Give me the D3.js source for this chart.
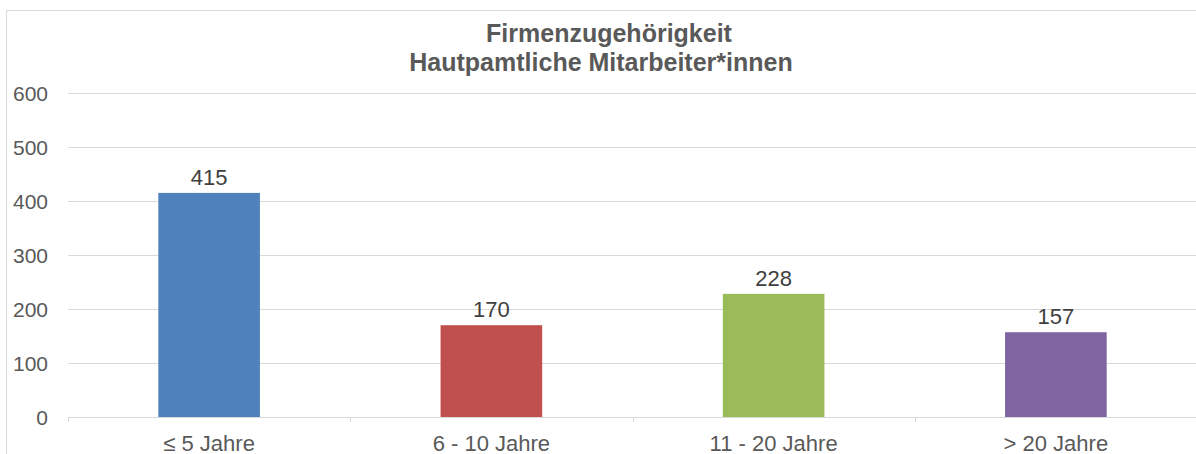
<!DOCTYPE html>
<html>
<head>
<meta charset="utf-8">
<script src="https://cdn.jsdelivr.net/npm/d3@7"></script>
<style>
  body { margin: 0; background: #fff; }
  svg { display: block; font-family: "Liberation Sans", Arial, sans-serif; }
</style>
</head>
<body>
<div id="chart"></div>
<script>
const WIDTH = 1196;
const HEIGHT = 454;

const categories = ["≤ 5 Jahre", "6 - 10 Jahre", "11 - 20 Jahre", "> 20 Jahre"];
const values = [415, 170, 228, 157];
const colors = ["#4F81BD", "#C0504D", "#9BBB59", "#8064A2"];
const yTicks = [0, 100, 200, 300, 400, 500, 600];
const titleLines = ["Firmenzugehörigkeit", "Hautpamtliche Mitarbeiter*innen"];

const margin = { left: 68, right: -1, top: 93, bottom: 37 };

const svg = d3.select("#chart").append("svg")
  .attr("width", WIDTH)
  .attr("height", HEIGHT);

// rahmen des diagrammbereichs (rechts und unten abgeschnitten)
svg.append("rect")
  .attr("x", 6.5).attr("y", 10.5)
  .attr("width", 1200).attr("height", 500)
  .attr("fill", "#fff")
  .attr("stroke", "#d9d9d9");

const x = d3.scaleBand()
  .domain(categories)
  .range([margin.left, WIDTH - margin.right])
  .paddingInner(0.64)
  .paddingOuter(0.32);

const y = d3.scaleLinear()
  .domain([0, 600])
  .range([HEIGHT - margin.bottom, margin.top]);

// gitternetzlinien
svg.append("g")
  .selectAll("line")
  .data(yTicks)
  .join("line")
  .attr("x1", margin.left)
  .attr("x2", WIDTH - margin.right)
  .attr("y1", d => Math.round(y(d)) + 0.5)
  .attr("y2", d => Math.round(y(d)) + 0.5)
  .attr("stroke", "#d9d9d9");

// y-achse beschriftung
svg.append("g")
  .selectAll("text")
  .data(yTicks)
  .join("text")
  .attr("x", 48)
  .attr("y", d => y(d))
  .attr("dy", "0.36em")
  .attr("text-anchor", "end")
  .attr("font-size", 21)
  .attr("fill", "#595959")
  .text(d => d);

// x-achse striche zwischen kategorien
const tickPos = d3.range(categories.length + 1).map(i => margin.left + i * (WIDTH - margin.right - margin.left) / categories.length);
svg.append("g")
  .selectAll("line")
  .data(tickPos)
  .join("line")
  .attr("x1", d => Math.round(d) + 0.5)
  .attr("x2", d => Math.round(d) + 0.5)
  .attr("y1", y(0))
  .attr("y2", y(0) + 5)
  .attr("stroke", "#d9d9d9");

// balken
svg.append("g")
  .selectAll("rect")
  .data(values)
  .join("rect")
  .attr("x", (d, i) => x(categories[i]))
  .attr("width", x.bandwidth())
  .attr("y", d => y(d))
  .attr("height", d => y(0) - y(d))
  .attr("fill", (d, i) => colors[i]);

// werte ueber den balken
svg.append("g")
  .selectAll("text")
  .data(values)
  .join("text")
  .attr("x", (d, i) => x(categories[i]) + x.bandwidth() / 2)
  .attr("y", d => y(d) - 8)
  .attr("text-anchor", "middle")
  .attr("font-size", 22)
  .attr("fill", "#404040")
  .text(d => d);

// kategorien
svg.append("g")
  .selectAll("text")
  .data(categories)
  .join("text")
  .attr("x", d => x(d) + x.bandwidth() / 2)
  .attr("y", 451)
  .attr("text-anchor", "middle")
  .attr("font-size", 22)
  .attr("fill", "#595959")
  .text(d => d);

// titel (erste zeile steht etwas weiter rechts)
svg.append("g")
  .selectAll("text")
  .data(titleLines)
  .join("text")
  .attr("x", (d, i) => i === 0 ? 609 : 601)
  .attr("y", (d, i) => 42 + i * 28.5)
  .attr("text-anchor", "middle")
  .attr("font-size", 25)
  .attr("font-weight", "bold")
  .attr("fill", "#595959")
  .text(d => d);
</script>
</body>
</html>
